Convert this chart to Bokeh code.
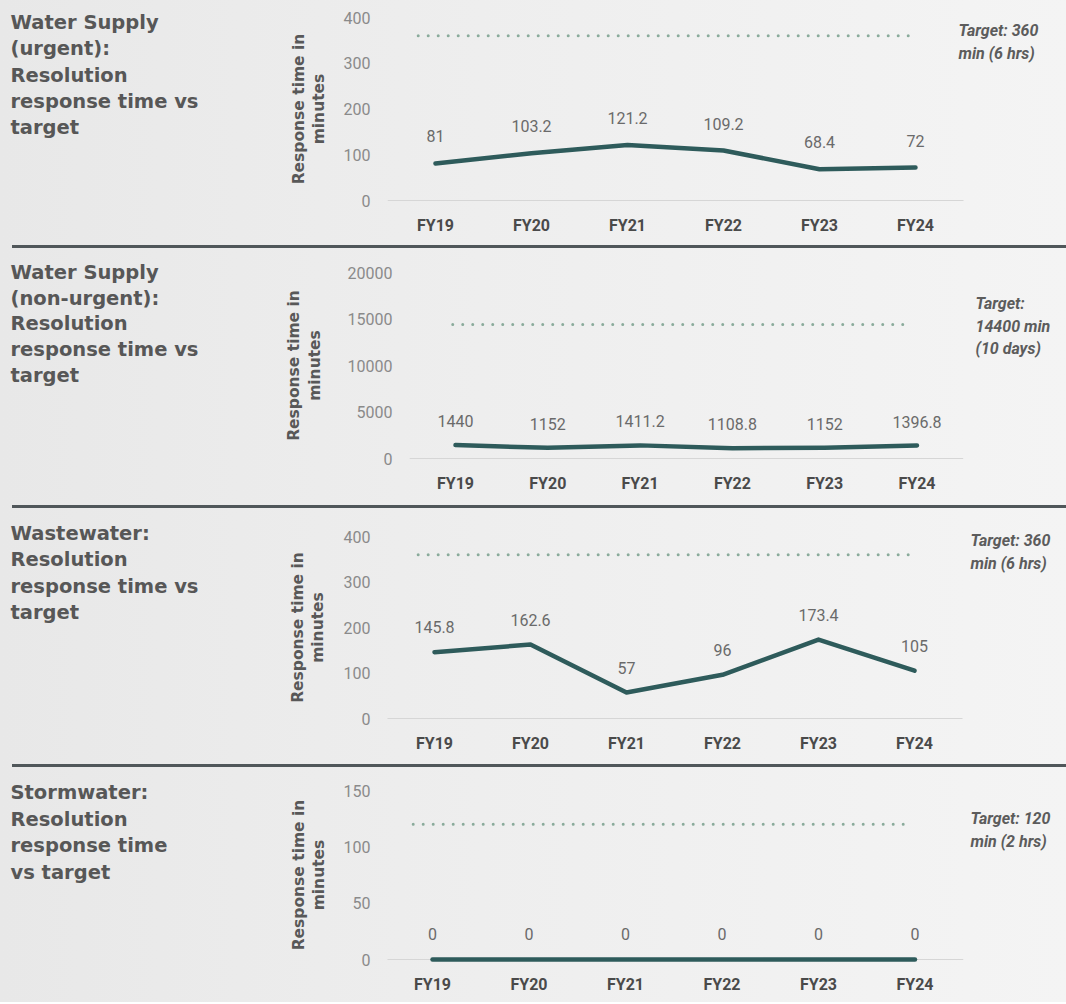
import math
from bokeh.plotting import figure
from bokeh.layouts import column, row
from bokeh.models import Range1d, FixedTicker, Div
from bokeh.core.properties import value
from bokeh.embed import file_html
from bokeh.resources import INLINE

# ---------------- data ----------------
categories = ["FY19", "FY20", "FY21", "FY22", "FY23", "FY24"]

urgent_values = [81, 103.2, 121.2, 109.2, 68.4, 72]
nonurgent_values = [1440, 1152, 1411.2, 1108.8, 1152, 1396.8]
wastewater_values = [145.8, 162.6, 57, 96, 173.4, 105]
stormwater_values = [0, 0, 0, 0, 0, 0]

targets = [360, 14400, 360, 120]

urgent_ticks = [0, 100, 200, 300, 400]
nonurgent_ticks = [0, 5000, 10000, 15000, 20000]
wastewater_ticks = [0, 100, 200, 300, 400]
stormwater_ticks = [0, 50, 100, 150]

titles = [
    ["Water Supply", "(urgent):", "Resolution", "response time vs", "target"],
    ["Water Supply", "(non-urgent):", "Resolution", "response time vs", "target"],
    ["Wastewater:", "Resolution", "response time vs", "target"],
    ["Stormwater:", "Resolution", "response time", "vs target"],
]
target_notes = [
    ["Target: 360", "min (6 hrs)"],
    ["Target:", "14400 min", "(10 days)"],
    ["Target: 360", "min (6 hrs)"],
    ["Target: 120", "min (2 hrs)"],
]
y_label_lines = ["Response time in", "minutes"]

series = [urgent_values, nonurgent_values, wastewater_values, stormwater_values]
tick_sets = [urgent_ticks, nonurgent_ticks, wastewater_ticks, stormwater_ticks]

# ---------------- style / layout ----------------
W = 1066
LW = 330          # width of the text column on the left
BG_CSS = "linear-gradient(90deg, #e8e8e8 0%, #eeeeee 45%, #f4f4f4 100%)"
LINE_COLOR = "#2e5b5b"
TARGET_COLOR = "#8aab9b"
SEP_COLOR = "#50575a"
PAD = 4  # px of frame below the zero line

# per panel (pixel positions inside each panel): height, y of top tick, y of zero line,
# frame left, x of first category, px per category, title lines, y-label x's,
# note position, target dotted span (category units), data label offset
specs = [
    dict(h=245, top=17, zero=200, left=387, fy=435, unit=96.0, title_y=22, title_dy=26.3,
         ylab_x=(298, 318), note_x=958, note_y=30, tspan=(-0.18, 4.95), loff=27),
    dict(h=257, top=24, zero=210, left=409, fy=455, unit=92.3, title_y=24, title_dy=25.7,
         ylab_x=(293, 314), note_x=975, note_y=55, tspan=(-0.03, 4.93), loff=24),
    dict(h=256, top=28, zero=210, left=387, fy=434, unit=96.0, title_y=25, title_dy=26.3,
         ylab_x=(297, 317), note_x=970, note_y=32, tspan=(-0.17, 4.95), loff=25),
    dict(h=235, top=23, zero=192, left=387, fy=432, unit=96.5, title_y=25, title_dy=26.5,
         ylab_x=(298, 318), note_x=970, note_y=51, tspan=(-0.20, 4.91), loff=26),
]

CLEAR = dict(background_fill_alpha=0, border_fill_alpha=0, outline_line_color=None)


def text_fig(i):
    sp = specs[i]
    h = sp["h"]
    fb = sp["zero"] + PAD
    f = figure(width=LW, height=h, output_backend="svg", toolbar_location=None,
               x_axis_type=None, y_axis_type=None, min_border=0,
               min_border_bottom=h - fb,
               x_range=Range1d(0, LW), y_range=Range1d(h - fb, h), **CLEAR)
    f.xgrid.visible = False
    f.ygrid.visible = False
    ys = [h - (sp["title_y"] + sp["title_dy"] * j) for j in range(len(titles[i]))]
    f.text(x=[10] * len(ys), y=ys, text=titles[i], text_font=value("DejaVu Sans"),
           text_font_style="bold", text_font_size="19.5px", text_color="#575757",
           text_baseline="middle", text_align="left")
    yc = h - (sp["top"] + sp["zero"]) / 2
    f.text(x=list(sp["ylab_x"]), y=[yc, yc], text=y_label_lines, angle=math.pi / 2,
           text_font=value("DejaVu Sans"), text_font_style="bold", text_font_size="15.5px",
           text_color="#585858", text_baseline="middle", text_align="center")
    return f


def chart_fig(i):
    sp = specs[i]
    vals = series[i]
    ticks = tick_sets[i]
    ymax = ticks[-1]
    h = sp["h"]
    plot_px = sp["zero"] - sp["top"]
    k = ymax / plot_px                     # data units per pixel
    frame_bottom = sp["zero"] + PAD
    unit = sp["unit"]
    x0 = -(sp["fy"] - sp["left"]) / unit
    x1 = (W - sp["fy"]) / unit
    p = figure(width=W - LW, height=h, output_backend="svg", toolbar_location=None,
               x_range=Range1d(x0, x1), y_range=Range1d(-PAD * k, ymax + sp["top"] * k),
               min_border_left=sp["left"] - LW, min_border_right=0,
               min_border_top=0, min_border_bottom=h - frame_bottom, **CLEAR)
    p.xgrid.visible = False
    p.ygrid.visible = False

    idx = list(range(len(categories)))
    xa = p.xaxis[0]
    xa.ticker = FixedTicker(ticks=idx)
    xa.major_label_overrides = {j: c for j, c in zip(idx, categories)}
    xa.axis_line_color = None
    xa.major_tick_line_color = None
    xa.minor_tick_line_color = None
    xa.major_tick_out = 0
    xa.major_tick_in = 0
    xa.major_label_standoff = 11
    xa.major_label_text_font = "Roboto"
    xa.major_label_text_font_style = "bold"
    xa.major_label_text_font_size = "16px"
    xa.major_label_text_color = "#4a4a4a"

    ya = p.yaxis[0]
    ya.ticker = FixedTicker(ticks=ticks)
    ya.axis_line_color = None
    ya.major_tick_line_color = None
    ya.minor_tick_line_color = None
    ya.major_tick_out = 0
    ya.major_tick_in = 0
    ya.major_label_standoff = 17
    ya.major_label_text_font = "Roboto"
    ya.major_label_text_font_size = "16px"
    ya.major_label_text_color = "#8a8a8a"

    # baseline across the category bands
    p.line(x=[-0.5, len(categories) - 0.5], y=[0, 0], line_color="#d6d6d6", line_width=1.2)

    # target dotted line
    t0, t1 = sp["tspan"]
    p.line(x=[t0, t1], y=[targets[i], targets[i]], line_color=TARGET_COLOR, line_width=3,
           line_dash="0 10", line_cap="round")

    # data line + labels
    p.line(x=idx, y=vals, line_color=LINE_COLOR, line_width=4.5, line_cap="round",
           line_join="round")
    p.text(x=idx, y=vals, text=[f"{v:g}" for v in vals], text_align="center",
           text_baseline="middle", y_offset=-sp["loff"], text_font=value("Roboto"),
           text_font_size="16px", text_color="#6a6a6a")

    # target note
    nx = (sp["note_x"] - sp["fy"]) / unit
    notes = target_notes[i]
    ny = [(sp["zero"] - (sp["note_y"] + 22.5 * j)) * k for j in range(len(notes))]
    p.text(x=[nx] * len(notes), y=ny, text=notes, text_font=value("Roboto"),
           text_font_style="bold italic", text_font_size="16px", text_color="#5c5c5c",
           text_baseline="middle", text_align="left")
    return p


def separator():
    return Div(text="", width=W - 12, height=3, margin=(0, 0, 0, 12),
               styles={"background-color": SEP_COLOR})


rows = [row(text_fig(i), chart_fig(i), spacing=0) for i in range(4)]
layout = column(rows[0], separator(), rows[1], separator(), rows[2], separator(), rows[3],
                spacing=0, styles={"background": BG_CSS})

open("out.html", "w").write(file_html(layout, INLINE))
